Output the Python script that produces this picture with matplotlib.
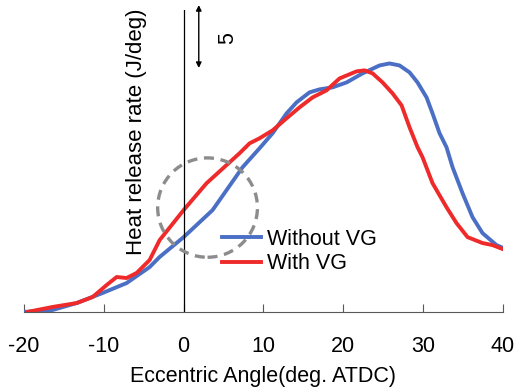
import matplotlib
matplotlib.use("Agg")
import matplotlib.pyplot as plt
from matplotlib.patches import Ellipse

plt.rcParams["font.family"] = ["Liberation Sans", "DejaVu Sans"]

# crank angle (deg ATDC) and heat release rate
x_without = [-20, -16.4, -13.4, -10.15, -7.14, -4.26, -3.01, 0, 3.63, 7.39,
             9.52, 11.15, 12.9, 14.16, 15.78, 17.04, 18.67, 20.42, 22.42, 24.55,
             25.8, 27.06, 28.31, 29.31, 30.44, 31.19, 32.07, 32.94, 33.7, 34.95,
             36.2, 37.45, 39.2, 40]
y_without = [0, 0.16, 0.71, 1.51, 2.30, 3.57, 4.37, 5.95, 8.10, 11.51,
             13.02, 14.21, 15.79, 16.67, 17.46, 17.70, 17.86, 18.25, 18.97, 19.6,
             19.76, 19.6, 19.05, 18.25, 17.06, 15.79, 14.21, 13.1, 11.51, 9.44,
             7.54, 6.27, 5.32, 5.1]

x_with = [-19.6, -16.4, -13.4, -11.4, -9.65, -8.39, -7.14, -5.89, -4.26, -3.01,
          0, 2.88, 7.01, 8.27, 9.52, 11.15, 12.9, 14.53, 16.16, 17.91,
          19.54, 21.67, 22.67, 23.68, 24.93, 26.18, 27.31, 28.31, 29.31, 29.94,
          31.19, 32.94, 34.2, 35.58, 37.45, 38.7, 40]
y_with = [0, 0.40, 0.71, 1.19, 2.14, 2.78, 2.70, 3.10, 4.13, 5.71,
          8.10, 10.24, 12.62, 13.41, 13.81, 14.44, 15.4, 16.27, 17.06, 17.62,
          18.57, 19.13, 19.21, 18.97, 18.25, 17.38, 16.43, 14.68, 13.1, 12.3,
          10.24, 8.33, 7.06, 5.95, 5.48, 5.32, 5.0]

xticks = [-20, -10, 0, 10, 20, 30, 40]

BLUE = "#4a6fc4"
RED = "#ef2a2a"
FS = 15.5

fig = plt.figure(figsize=(5.16, 3.89), dpi=100)
ax = fig.add_axes([0.0465, 0.198, 0.928, 0.776])

ax.plot(x_without, y_without, color=BLUE, lw=2.8, label="Without VG",
        solid_joinstyle="round")
ax.plot(x_with, y_with, color=RED, lw=2.8, label="With VG",
        solid_joinstyle="round")

ax.axvline(0, color="black", lw=0.9)

circ = Ellipse((3.0, 8.3), 12.5, 7.9, fill=False, ls=(0, (3, 2)),
               ec="#8c8c8c", lw=2.4, zorder=5)
ax.add_patch(circ)

# scale bar
ax.annotate("", xy=(1.9, 24.4), xytext=(1.9, 19.4),
            arrowprops=dict(arrowstyle="<|-|>", color="black", lw=1,
                            mutation_scale=8, shrinkA=0, shrinkB=0),
            annotation_clip=False)
ax.text(5.5, 21.8, "5", rotation=90, ha="center", va="center", fontsize=FS)

ax.text(-5.9, 14.3, "Heat release rate (J/deg)", rotation=90,
        ha="center", va="center", fontsize=16)

ax.set_xlim(-20, 40)
ax.set_ylim(0, 24)
ax.set_xticks(xticks)
ax.set_xticklabels([str(t) for t in xticks], fontsize=FS)
ax.set_yticks([])
ax.tick_params(axis="x", direction="in", length=6, pad=17, color="#595959")
ax.set_xlabel("Eccentric Angle(deg. ATDC)", fontsize=FS, labelpad=7)

for s in ["top", "right", "left"]:
    ax.spines[s].set_visible(False)
ax.spines["bottom"].set_color("#595959")

ax.legend(loc="upper left", bbox_to_anchor=(0.413, 0.275), frameon=False,
          fontsize=FS, handlelength=1.8, handletextpad=0.3,
          labelspacing=0.15, borderpad=0, borderaxespad=0)

fig.savefig("out.png", dpi=100)
